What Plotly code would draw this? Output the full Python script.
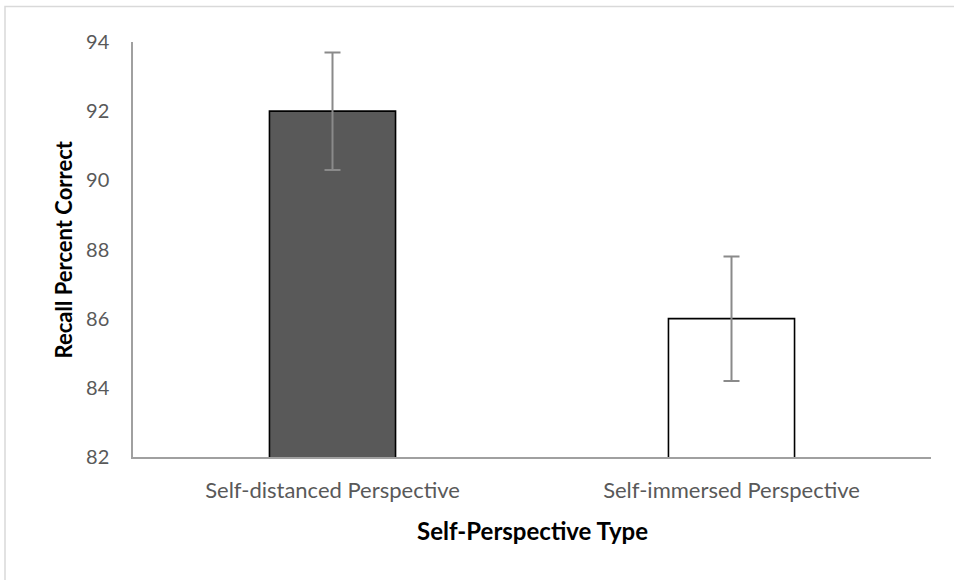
import plotly.graph_objects as go

categories = ["Self-distanced Perspective", "Self-immersed Perspective"]
values = [92.0, 86.0]
errors = [1.7, 1.8]
bar_colors = ["#595959", "#ffffff"]
y_ticks = [82, 84, 86, 88, 90, 92, 94]

FONT = "Lato, Carlito, Calibri, sans-serif"

fig = go.Figure()
fig.add_trace(go.Bar(
    x=categories,
    y=values,
    width=0.316,
    marker=dict(color=bar_colors, line=dict(color="#000000", width=1.6)),
    error_y=dict(type="data", array=errors, visible=True,
                 color="#8a8a8a", thickness=2, width=8),
    showlegend=False,
))

fig.update_layout(
    width=954, height=580,
    margin=dict(l=133, r=23, t=42, b=123),
    paper_bgcolor="white", plot_bgcolor="white",
    font=dict(family=FONT, size=18, color="#595959"),
    xaxis=dict(
        showgrid=False, showline=True, linecolor="#a0a0a0", linewidth=1.5,
        ticks="", tickfont=dict(size=22, color="#595959", family=FONT),
        ticklabelstandoff=13,
    ),
    yaxis=dict(
        range=[82, 94], tickvals=y_ticks, showgrid=False,
        showline=True, linecolor="#a0a0a0", linewidth=1.5, ticks="",
        tickfont=dict(size=20, color="#595959", family=FONT),
        ticklabelstandoff=18, zeroline=False,
    ),
    annotations=[
        dict(text="<b>Self-Perspective Type</b>", xref="paper", yref="paper",
             x=0.5, y=-0.178, xanchor="center", yanchor="middle",
             showarrow=False, font=dict(size=24, color="#000000", family=FONT)),
        dict(text="<b>Recall Percent Correct</b>", xref="paper", yref="paper",
             x=-0.0877, y=0.5, xanchor="center", yanchor="middle", textangle=-90,
             showarrow=False, font=dict(size=22, color="#000000", family=FONT)),
    ],
    shapes=[
        dict(type="rect", xref="paper", yref="paper",
             x0=-0.1604, x1=1.2, y0=-0.5, y1=1.0855,
             line=dict(color="#d9d9d9", width=1.5), fillcolor="rgba(0,0,0,0)",
             layer="below"),
    ],
)

fig.write_html("out.html", config={"displayModeBar": False},
               post_script="document.body.style.margin='0';")
